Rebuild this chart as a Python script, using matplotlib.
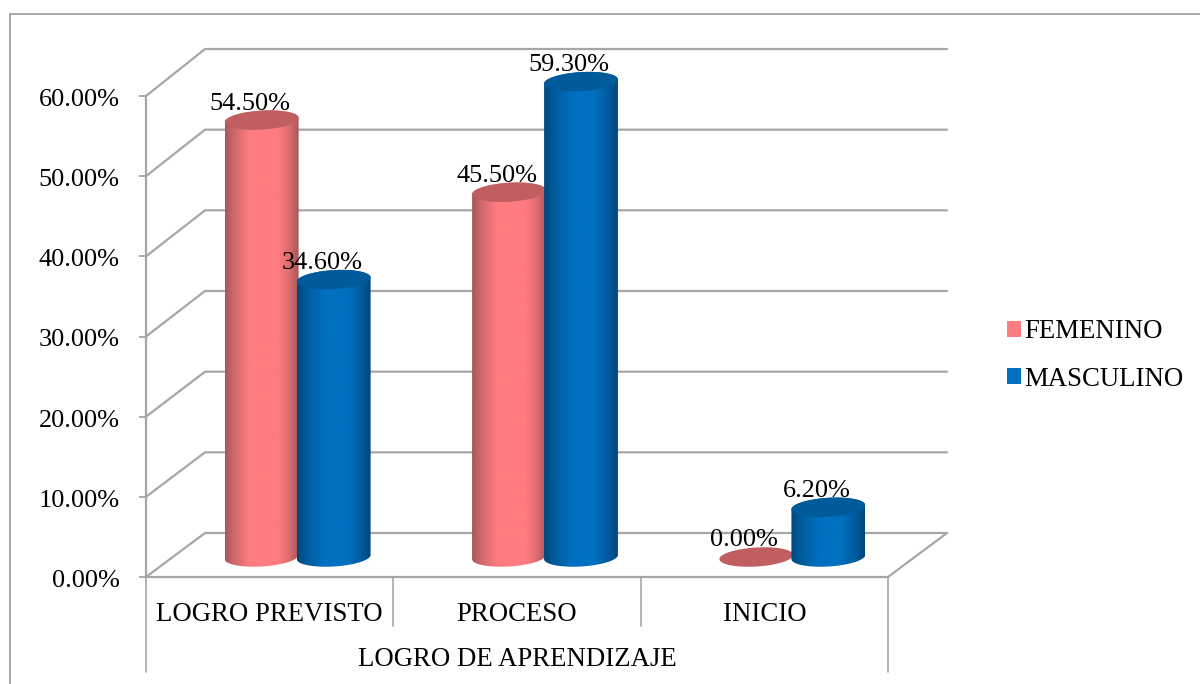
import numpy as np
import matplotlib
matplotlib.use("Agg")
import matplotlib.pyplot as plt
from matplotlib.colors import LinearSegmentedColormap
from matplotlib.lines import Line2D
from matplotlib.patches import Patch, PathPatch
from matplotlib.path import Path
from matplotlib.transforms import IdentityTransform, ScaledTranslation

categories = ["LOGRO PREVISTO", "PROCESO", "INICIO"]
group_label = "LOGRO DE APRENDIZAJE"
femenino = [54.5, 45.5, 0.0]
masculino = [34.6, 59.3, 6.2]
yticks = [0, 10, 20, 30, 40, 50, 60]

plt.rcParams["font.family"] = ["Liberation Serif", "DejaVu Serif"]
FS = 19.3
FSN = 18.9
W, H = 1200, 684
GRAY = "#A6A6A6"

fig = plt.figure(figsize=(W / 100, H / 100), dpi=100, facecolor="white")
L, R, T, B = 146, 888, 96, 577
ax = fig.add_axes([L / W, 1 - B / H, (R - L) / W, (B - T) / H])
ax.set_xlim(-0.5, 2.5)
ax.set_ylim(0, 60)
ax.patch.set_alpha(0)
for s in ("top", "right"):
    ax.spines[s].set_visible(False)
for s in ("left", "bottom"):
    ax.spines[s].set_color(GRAY)
    ax.spines[s].set_linewidth(1.6)
ax.set_yticks(yticks, [f"{v:.2f}%" for v in yticks], fontsize=FSN)
ax.tick_params(axis="y", length=5, width=1.3, color=GRAY, pad=14)
down = ScaledTranslation(0, -1.5 / 100, fig.dpi_scale_trans)
for t in ax.get_yticklabels():
    t.set_transform(t.get_transform() + down)
ax.set_xticks(range(3), categories, fontsize=FS)
ax.tick_params(axis="x", length=0, pad=18)


def px(x, v):
    """data -> pixel coordinates measured from the top-left corner"""
    dx, dy = ax.transData.transform((x, v))
    return dx, H - dy


ID = IdentityTransform()


def pline(xs, ys, lw=1.6):
    l = Line2D(xs, [H - y for y in ys], transform=ID, color=GRAY, lw=lw,
               solid_capstyle="round", zorder=1, clip_on=False)
    ax.add_artist(l)


# floor / back wall grid
DX, DY = 59, 44
for v in yticks:
    x0, y0 = px(-0.5, v)
    x1, _ = px(2.5, v)
    yb = y0 - DY - v * 0.05
    pline([x0, x0 + DX, x1 + DX], [y0, yb, yb])
xe, ye = px(2.5, 0)
pline([xe, xe + DX], [ye, ye - DY])

# category separators
for x, end in ((-0.5, 672), (0.5, 626), (1.5, 626), (2.5, 672)):
    xp, yp = px(x, 0)
    pline([xp, xp], [yp, end], lw=1.2)

ax.text(0.5 * (L + R) / W, 1 - 659 / H, group_label, transform=fig.transFigure,
        ha="center", va="center", fontsize=FS)

# outer chart-area border
pline([10, 10, W], [H, 14, 14], lw=1.4)

# cylinders
FEM = dict(stops=[(0, "#A85558"), (0.12, "#CF686B"), (0.33, "#FF7C80"), (0.72, "#FF7C80"),
                  (0.88, "#D96A6D"), (1, "#A85558")], top="#C05F61")
MAS = dict(stops=[(0, "#00487C"), (0.12, "#005A9B"), (0.38, "#0070C0"), (0.68, "#0070C0"),
                  (0.88, "#005A9B"), (1, "#00477A")], top="#005B9B")

RX, RY = 37, 9.5
TILT = np.deg2rad(-3.5)
OFF_X, OFF_Y = 28, 20
OFFSET_GROUP = 36


def ell(cx, cy, th):
    x = RX * np.cos(th)
    y = RY * np.sin(th)
    return (cx + x * np.cos(TILT) - y * np.sin(TILT),
            cy + x * np.sin(TILT) + y * np.cos(TILT))


def cylinder(xc, value, style, z):
    cx0, base = px(xc, 0)
    _, top = px(xc, value)
    cx = cx0 + OFF_X
    base -= OFF_Y
    top -= OFF_Y
    th = np.linspace(0, 2 * np.pi, 181)
    if value > 0:
        bx, by = ell(cx, base, np.linspace(0, np.pi, 91))
        tx, ty = ell(cx, top, np.linspace(np.pi, 2 * np.pi, 91))
        clip = Path(np.c_[np.r_[bx, tx], H - np.r_[by, ty]])
        cmap = LinearSegmentedColormap.from_list("c", style["stops"])
        im = ax.imshow(np.linspace(0, 1, 256)[None, :], cmap=cmap, aspect="auto",
                       extent=(cx - RX, cx + RX, H - (base + RY + 6), H - (top - RY - 6)),
                       transform=ID, zorder=z, interpolation="bilinear")
        im.set_clip_box(fig.bbox)
        im.set_clip_path(PathPatch(clip, transform=ID))
    ex, ey = ell(cx, top, th)
    ax.add_patch(PathPatch(Path(np.c_[ex, H - ey]), transform=ID, facecolor=style["top"],
                           edgecolor="none", zorder=z + 0.5, clip_on=False))
    return cx, top


labels = []
gap = OFFSET_GROUP / ((R - L) / 3)
for i in range(3):
    labels.append((cylinder(i - gap, femenino[i], FEM, 3), femenino[i]))
    labels.append((cylinder(i + gap, masculino[i], MAS, 4), masculino[i]))
ax.set_xlim(-0.5, 2.5)
ax.set_ylim(0, 60)

for (cx, top), v in labels:
    ax.text(cx - 12, H - (top - 16.5), f"{v:.2f}%", transform=ID, ha="center",
            va="center", fontsize=FSN, zorder=10, clip_on=False)

handles = [Patch(facecolor="#FF7C80", label="FEMENINO"), Patch(facecolor="#0070C0", label="MASCULINO")]
fig.legend(handles=handles, loc="center left", bbox_to_anchor=(1007 / W, 1 - 355.5 / H),
           frameon=False, fontsize=FS, handlelength=0.54, handleheight=0.54,
           handletextpad=0.12, labelspacing=0.85, borderpad=0, borderaxespad=0)

fig.savefig("out.png", dpi=100, facecolor="white")
